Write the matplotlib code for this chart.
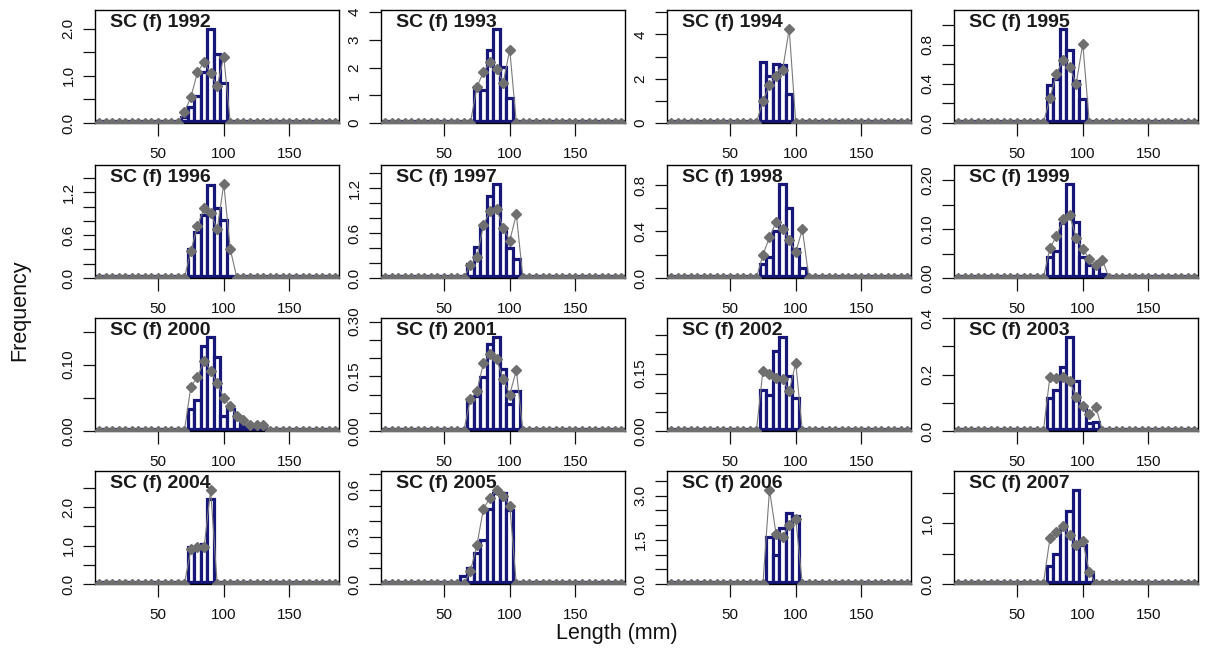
import numpy as np
import matplotlib
matplotlib.use("Agg")
import matplotlib.pyplot as plt

plt.rcParams['font.family'] = ['Liberation Sans', 'DejaVu Sans']

# ---------------- data ----------------
years = [1992, 1993, 1994, 1995, 1996, 1997, 1998, 1999,
         2000, 2001, 2002, 2003, 2004, 2005, 2006, 2007]
length_bins = list(range(5, 190, 5))   # 5 .. 185 mm

# observed frequencies (bars): first length bin and values
bar_start = [70, 75, 75, 75, 75, 70, 75, 75, 75, 70, 75, 75, 75, 65, 80, 75]
bars_1992 = [0.13, 0.33, 0.57, 1.08, 2.0, 1.47, 0.85]
bars_1993 = [1.3, 1.2, 2.62, 3.4, 2.02, 0.91]
bars_1994 = [2.75, 2.1, 2.67, 2.62, 1.29]
bars_1995 = [0.39, 0.45, 0.96, 0.74, 0.43, 0.24]
bars_1996 = [0.40, 0.64, 0.89, 1.31, 0.98, 0.81]
bars_1997 = [0.19, 0.41, 0.68, 1.10, 1.26, 0.63, 0.40, 0.26]
bars_1998 = [0.12, 0.18, 0.40, 0.81, 0.60, 0.25, 0.09]
bars_1999 = [0.043, 0.056, 0.113, 0.193, 0.115, 0.044, 0.026, 0.026, 0.009]
bars_2000 = [0.033, 0.047, 0.128, 0.142, 0.111, 0.023, 0.033, 0.023, 0.007, 0.004, 0.009, 0.008]
bars_2001 = [0.088, 0.097, 0.147, 0.238, 0.258, 0.171, 0.073, 0.109]
bars_2002 = [0.106, 0.095, 0.208, 0.246, 0.144, 0.086]
bars_2003 = [0.117, 0.147, 0.227, 0.334, 0.177, 0.09, 0.029, 0.031]
bars_2004 = [0.97, 0.97, 1.05, 2.2]
bars_2005 = [0.05, 0.1, 0.2, 0.28, 0.48, 0.58, 0.58, 0.47]
bars_2006 = [1.6, 1.0, 1.9, 2.4, 2.3]
bars_2007 = [0.3, 0.5, 0.9, 1.2, 1.55, 0.65, 0.2]

# fitted / predicted frequencies (grey diamonds): first length bin and values
pts_start = [70, 75, 75, 75, 75, 70, 75, 75, 75, 70, 75, 75, 75, 70, 80, 75]
pts_1992 = [0.23, 0.55, 1.08, 1.29, 1.06, 0.78, 1.41]
pts_1993 = [1.3, 1.85, 2.2, 1.95, 1.45, 2.65]
pts_1994 = [1.0, 1.7, 2.1, 2.4, 4.25]
pts_1995 = [0.25, 0.5, 0.64, 0.57, 0.4, 0.81]
pts_1996 = [0.38, 0.73, 0.98, 0.91, 0.68, 1.32, 0.4]
pts_1997 = [0.17, 0.28, 0.71, 0.9, 0.92, 0.67, 0.5, 0.85]
pts_1998 = [0.2, 0.35, 0.48, 0.42, 0.33, 0.22, 0.42]
pts_1999 = [0.061, 0.086, 0.12, 0.13, 0.082, 0.06, 0.039, 0.026, 0.037]
pts_2000 = [0.067, 0.081, 0.106, 0.091, 0.072, 0.05, 0.037, 0.023, 0.016, 0.009, 0.009, 0.009]
pts_2001 = [0.087, 0.11, 0.187, 0.21, 0.196, 0.142, 0.1, 0.167]
pts_2002 = [0.157, 0.149, 0.138, 0.135, 0.104, 0.178]
pts_2003 = [0.193, 0.189, 0.19, 0.176, 0.122, 0.09, 0.059, 0.086]
pts_2004 = [0.9, 0.95, 0.95, 2.45]
pts_2005 = [0.08, 0.25, 0.48, 0.55, 0.6, 0.56, 0.5]
pts_2006 = [3.2, 1.7, 1.6, 2.0, 2.2]
pts_2007 = [0.75, 0.85, 0.95, 0.8, 0.65, 0.7, 0.2]

bars_all = [bars_1992, bars_1993, bars_1994, bars_1995, bars_1996, bars_1997,
            bars_1998, bars_1999, bars_2000, bars_2001, bars_2002, bars_2003,
            bars_2004, bars_2005, bars_2006, bars_2007]
pts_all = [pts_1992, pts_1993, pts_1994, pts_1995, pts_1996, pts_1997,
           pts_1998, pts_1999, pts_2000, pts_2001, pts_2002, pts_2003,
           pts_2004, pts_2005, pts_2006, pts_2007]

# y-axis tick step, label step, label format
ytick_step = [0.5, 1, 1, 0.2, 0.2, 0.2, 0.2, 0.05, 0.05, 0.05, 0.05, 0.1, 0.5, 0.1, 0.5, 0.5]
ylabel_step = [1.0, 1, 2, 0.4, 0.6, 0.6, 0.4, 0.1, 0.1, 0.15, 0.15, 0.2, 1.0, 0.3, 1.5, 1.0]
ylabel_fmt = ['%.1f', '%d', '%d', '%.1f', '%.1f', '%.1f', '%.1f', '%.2f',
              '%.2f', '%.2f', '%.2f', '%.1f', '%.1f', '%.1f', '%.1f', '%.1f']
x_ticks = [50, 100, 150]


def full_series(start, values):
    out = []
    for L in length_bins:
        i = (L - start) // 5
        out.append(values[i] if 0 <= i < len(values) else 0.0)
    return out


# ---------------- figure ----------------
W, H = 1209, 656
fig = plt.figure(figsize=(W / 100, H / 100), dpi=100)

lefts = [95, 381, 667, 954]
tops = [10, 165, 318, 471]
pw, ph = 244, 113

navy = '#17177a'
grey = '#6f6f6f'

for k, yr in enumerate(years):
    r, c = divmod(k, 4)
    ax = fig.add_axes([lefts[c] / W, 1 - (tops[r] + ph) / H, pw / W, ph / H])
    b = full_series(bar_start[k], bars_all[k])
    p = full_series(pts_start[k], pts_all[k])
    ax.bar(length_bins, b, width=5, facecolor='white', edgecolor=navy,
           linewidth=2.3, zorder=2)
    ax.axhline(0, color=navy, lw=4.5, zorder=2.5)
    ax.plot(length_bins, p, color='#7a7a7a', lw=0.8, zorder=3)
    ax.plot(length_bins, p, linestyle='none', marker='D', ms=4.6,
            mfc=grey, mec=grey, zorder=4)
    ymax = 1.2 * max(max(bars_all[k]), max(pts_all[k]))
    ax.set_xlim(2, 187.7)
    ax.set_ylim(0, ymax)
    step = ytick_step[k]
    ticks = np.arange(0, ymax + 1e-9, step)
    labels = []
    for t in ticks:
        q = t / ylabel_step[k]
        labels.append(ylabel_fmt[k] % t if abs(q - round(q)) < 1e-6 else '')
    ax.set_yticks(ticks)
    ax.set_yticklabels(labels, rotation=90, va='center')
    ax.set_xticks(x_ticks)
    ax.set_xticklabels([str(v) for v in x_ticks])
    ax.tick_params(axis='both', direction='out', length=9, width=0.9,
                   labelsize=11, colors='#111111', pad=8)
    ax.tick_params(axis='y', pad=5)
    for s in ax.spines.values():
        s.set_linewidth(1.0)
        s.set_color('black')
    ax.text(0.06, 0.965, 'SC (f) %d' % yr, transform=ax.transAxes,
            ha='left', va='top', fontsize=14, fontweight='bold',
            color='#1a1a1a', zorder=5)

fig.text(20 / W, 1 - 310 / H, 'Frequency', rotation=90, ha='center',
         va='center', fontsize=15.5, color='#111111')
fig.text(617 / W, 1 - 633 / H, 'Length (mm)', ha='center', va='center',
         fontsize=15.5, color='#111111')

fig.savefig('out.png', dpi=100)
